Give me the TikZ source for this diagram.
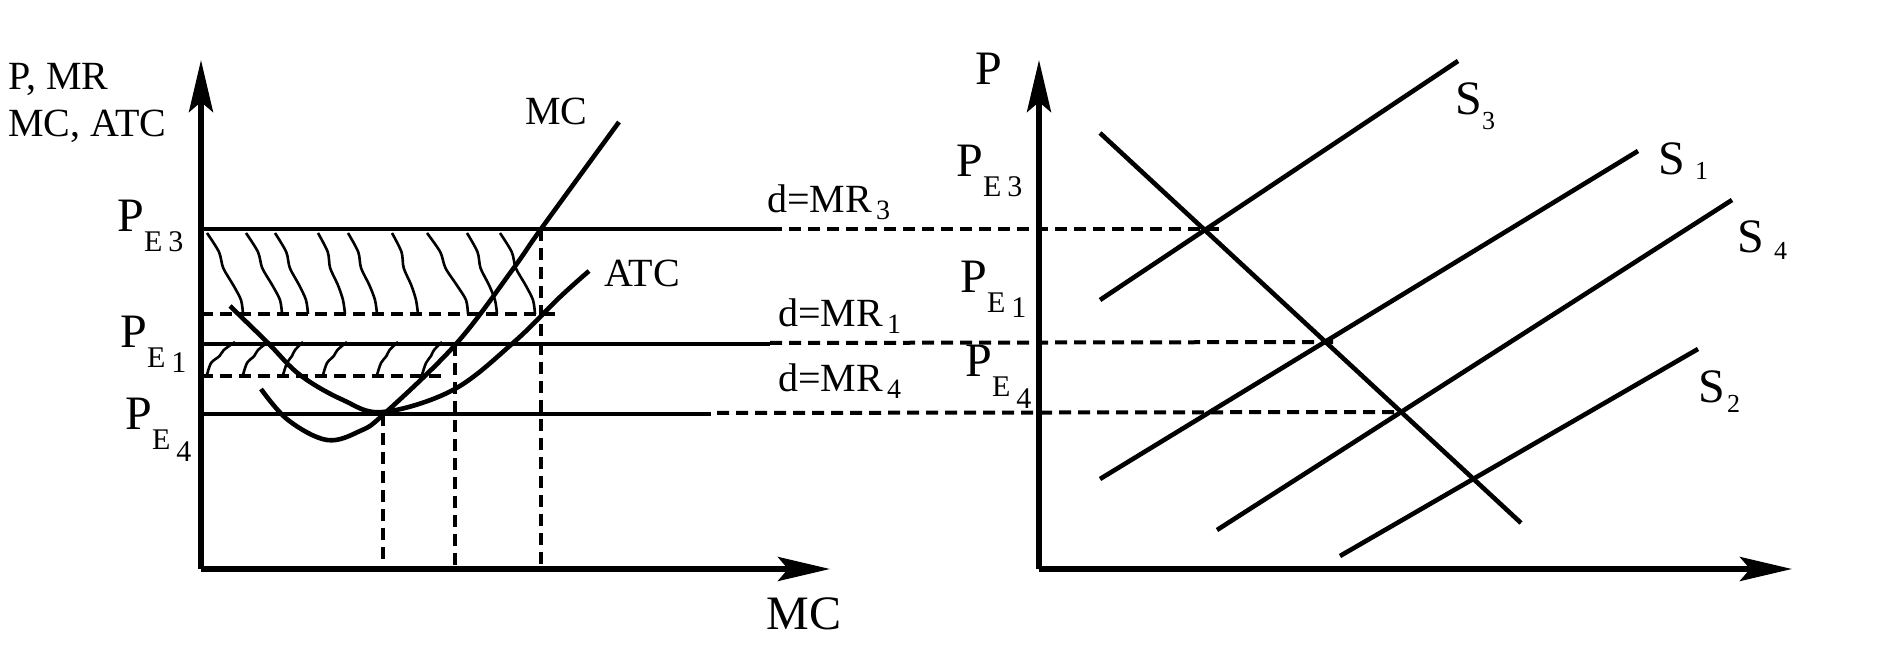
\documentclass[tikz,border=0pt]{standalone}
\usepackage{fontspec}
\setmainfont{Liberation Serif}
\usetikzlibrary{arrows.meta,positioning}

\newcommand{\pe}[2]{P\raisebox{-10pt}{\fontsize{15}{15}\selectfont E\hspace{3pt}\raisebox{-#2}{#1}}}
\newcommand{\mrsub}[1]{\hspace{2pt}\raisebox{-3.5pt}{\fontsize{14}{14}\selectfont #1}}
\newcommand{\ssub}[3]{\hspace{#2}\raisebox{-#3}{\fontsize{13}{13}\selectfont #1}}

\begin{document}
\begin{tikzpicture}[x=0.5pt,y=-0.5pt,
                    axis line/.style={line width=2.7pt,-{Stealth[length=26pt,width=12pt,inset=5pt]}},
                    curve line/.style={line width=2.3pt},
                    guide line/.style={line width=2pt,dash pattern=on 6pt off 3.5pt},
                    hatch line/.style={line width=1.3pt},
                    label node/.style={inner sep=0pt,anchor=base west,font=\fontsize{20}{24}\selectfont},
                    big node/.style={label node,font=\fontsize{24}{28}\selectfont}]

  \useasboundingbox (0,0) rectangle (1880,667);

  % left graph: axes
  \coordinate (O1) at (201,569);
  \draw[axis line] (O1) -- (201,60);
  \draw[axis line] (O1) -- (830,569);

  % price lines d=MR
  \draw[curve line] (201,229) -- (770,229);
  \draw[curve line] (201,344) -- (770,344);
  \draw[curve line] (201,414) -- (711,414);
  \draw[guide line] (770,229) -- (1219,229);
  \draw[guide line] (770,343) -- (1339,342);
  \draw[guide line] (717,413) -- (1401,412);

  % ATC levels and quantities
  \draw[guide line] (201,314) -- (560,314);
  \draw[guide line] (201,376) -- (441,376);
  \draw[guide line] (383,414) -- (383,569);
  \draw[guide line] (455,344) -- (455,569);
  \draw[guide line] (541,229) -- (541,569);

  % cost curves
  \draw[curve line] plot[smooth,tension=0.6] coordinates
    {(261,389) (288,420) (327,440) (360,431) (384,414) (456,344) (513,269) (541,229) (619,122)};
  \draw[curve line] plot[smooth,tension=0.6] coordinates
    {(230,306) (268,343) (300,375) (343,400) (383,412) (453,390) (513,343) (560,297) (589,271)};

  % hatching: profit
  \foreach \a/\b in {207/243,246/282,275/308,318/345,348/377,392/418,427/468,467/497,500/535}
    \draw[hatch line] plot[smooth] coordinates
      {(\a,233) ({\a+0.25*(\b-\a)+3},252) ({\a+0.45*(\b-\a)},268) ({\a+0.7*(\b-\a)+1},285) ({\b-2},300) (\b,314)};
  \foreach \a/\b in {207/235,243/268,283/303,323/347,377/398,422/442}
    \draw[hatch line] plot[smooth] coordinates
      {(\a,375) ({\a+4},363) ({\a+0.45*(\b-\a)},356) ({\a+0.6*(\b-\a)},350) (\b,342)};

  % left graph: labels
  \node[label node] (yl1) at (8,90) {P, MR};
  \node[label node] (yl2) at (8,137) {MC, ATC};
  \node[big node] (pe3l) at (117,232) {\pe{3}{0pt}};
  \node[big node] (pe1l) at (120,348) {\pe{1}{2.5pt}};
  \node[big node] (pe4l) at (125,430) {\pe{4}{6pt}};
  \node[label node] (mc) at (525,125) {MC};
  \node[label node] (atc) at (604,287) {ATC};
  \node[label node] (mr3) at (767,213) {d=MR\mrsub{3}};
  \node[label node] (mr1) at (778,327) {d=MR\mrsub{1}};
  \node[label node] (mr4) at (778,392) {d=MR\mrsub{4}};
  \node[big node] (xl) at (766,630) {MC};

  % right graph: axes
  \coordinate (O2) at (1039,569);
  \draw[axis line] (O2) -- (1039,60);
  \draw[axis line] (O2) -- (1792,569);

  % demand and supply
  \draw[curve line] (1100,133) -- (1521,523);
  \draw[curve line] (1100,300) -- (1458,61);
  \draw[curve line] (1100,479) -- (1638,151);
  \draw[curve line] (1217,530) -- (1732,200);
  \draw[curve line] (1340,556) -- (1698,349);

  % right graph: labels
  \node[big node] (p) at (975,85) {P};
  \node[big node] (pe3r) at (956,177) {\pe{3}{0pt}};
  \node[big node] (pe1r) at (960,293) {\pe{1}{2.5pt}};
  \node[big node] (pe4r) at (965,377) {\pe{4}{6pt}};
  \node[big node] (s3) at (1455,115) {S\ssub{3}{0pt}{7.5pt}};
  \node[big node] (s1) at (1658,175) {S\ssub{1}{5pt}{2.5pt}};
  \node[big node] (s4) at (1737,253) {S\ssub{4}{5pt}{3.5pt}};
  \node[big node] (s2) at (1698,403) {S\ssub{2}{1pt}{5pt}};

\end{tikzpicture}
\end{document}
